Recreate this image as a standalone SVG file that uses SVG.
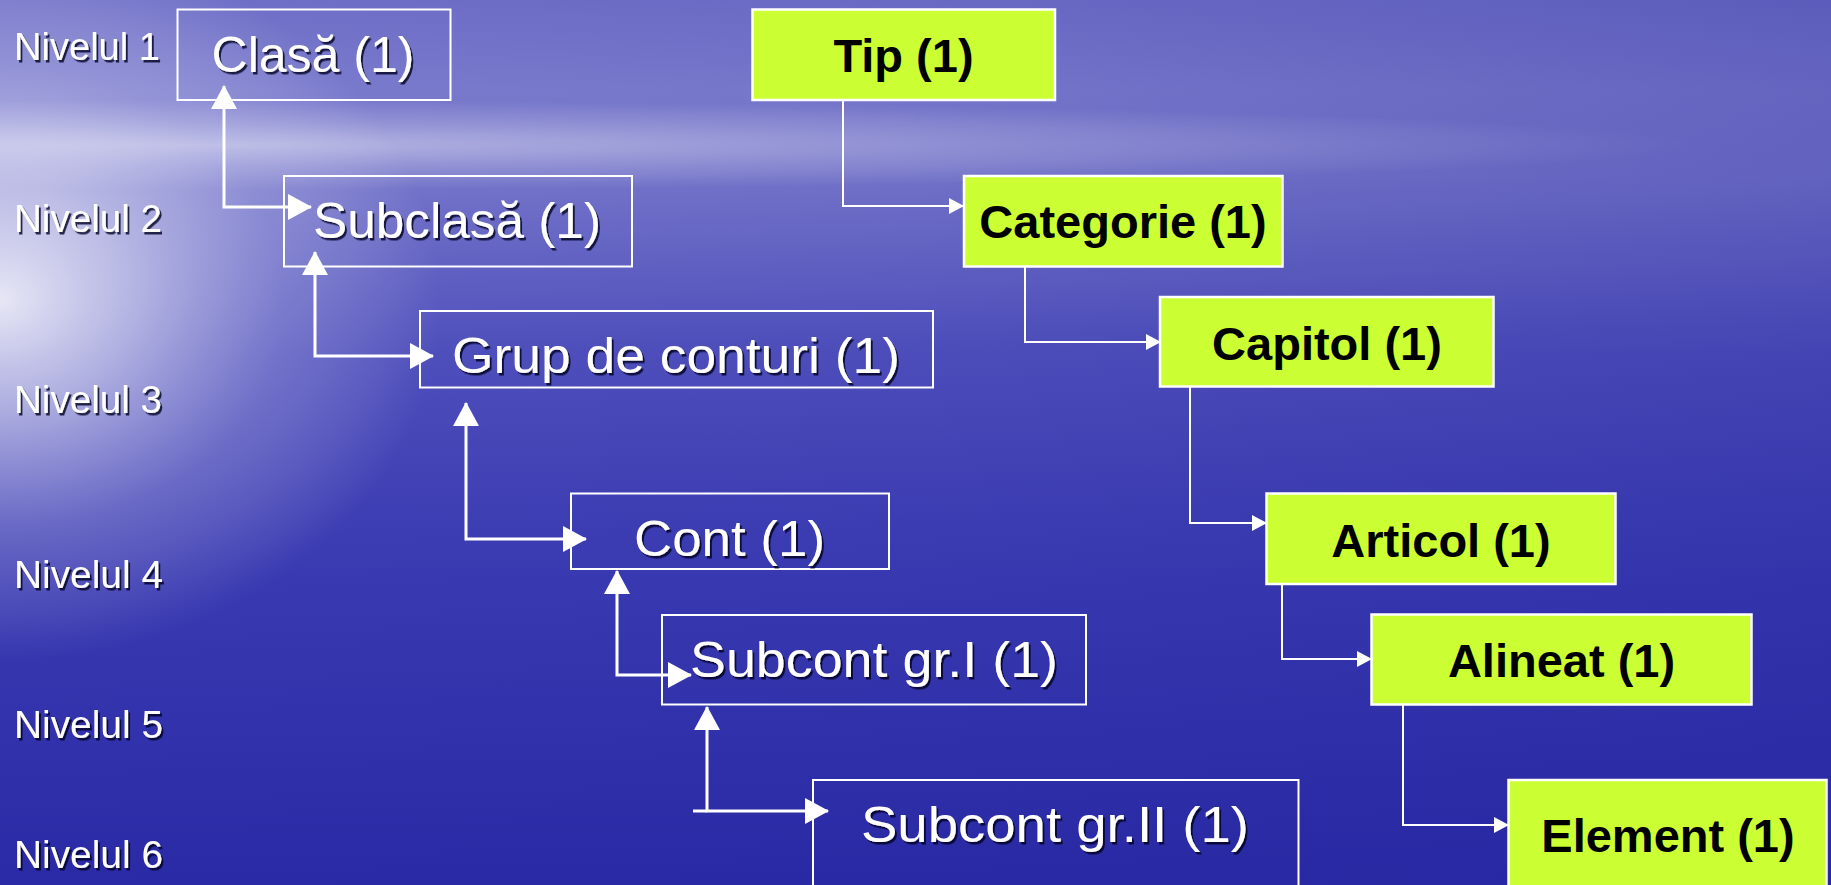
<svg xmlns="http://www.w3.org/2000/svg" width="1831" height="885" viewBox="0 0 1831 885">
  <defs>
    <linearGradient id="bgV" x1="0" y1="0" x2="0" y2="1">
      <stop offset="0" stop-color="#7070c8"/>
      <stop offset="0.1" stop-color="#7c7cce"/>
      <stop offset="0.2" stop-color="#7878cc"/>
      <stop offset="0.4" stop-color="#5050bd"/>
      <stop offset="0.65" stop-color="#3a3ab2"/>
      <stop offset="1" stop-color="#2a2aa6"/>
    </linearGradient>
    <linearGradient id="bgH" x1="0" y1="0" x2="1" y2="0">
      <stop offset="0" stop-color="#1e1e96" stop-opacity="0"/>
      <stop offset="0.5" stop-color="#1e1e96" stop-opacity="0.08"/>
      <stop offset="1" stop-color="#1e1e96" stop-opacity="0.25"/>
    </linearGradient>
    <radialGradient id="glow" cx="0" cy="0" r="1" gradientUnits="userSpaceOnUse" gradientTransform="translate(0 300) scale(440 360)">
      <stop offset="0" stop-color="#ffffff" stop-opacity="0.85"/>
      <stop offset="0.3" stop-color="#f0f0fa" stop-opacity="0.6"/>
      <stop offset="0.65" stop-color="#dcdcf4" stop-opacity="0.25"/>
      <stop offset="1" stop-color="#ffffff" stop-opacity="0"/>
    </radialGradient>
    <radialGradient id="band" cx="0" cy="0" r="1" gradientUnits="userSpaceOnUse" gradientTransform="translate(200 145) scale(1500 45)">
      <stop offset="0" stop-color="#ffffff" stop-opacity="0.45"/>
      <stop offset="0.5" stop-color="#ffffff" stop-opacity="0.2"/>
      <stop offset="1" stop-color="#ffffff" stop-opacity="0"/>
    </radialGradient>
    <filter id="shadow" x="-10%" y="-20%" width="120%" height="150%">
      <feDropShadow dx="2" dy="2.5" stdDeviation="0.6" flood-color="#000022" flood-opacity="0.8"/>
    </filter>
    <marker id="bigHead" viewBox="0 0 24 26" refX="23" refY="13" markerWidth="24" markerHeight="26" markerUnits="userSpaceOnUse" orient="auto-start-reverse">
      <path d="M0,0 L24,13 L0,26 z" fill="#ffffff"/>
    </marker>
    <marker id="smallHead" viewBox="0 0 15 16" refX="14" refY="8" markerWidth="15" markerHeight="16" markerUnits="userSpaceOnUse" orient="auto">
      <path d="M0,0 L15,8 L0,16 z" fill="#ffffff"/>
    </marker>
    <style>
      .lvl { font-family: "Liberation Sans", Arial, sans-serif; font-size: 38px; fill: #ffffff; }
      .wbox { fill: none; stroke: #ffffff; stroke-width: 2; }
      .wtxt { font-family: "Liberation Sans", Arial, sans-serif; font-size: 50px; fill: #ffffff; text-anchor: middle; }
      .gbox { fill: #ccff33; stroke: #ffffff; stroke-width: 2.5; }
      .gtxt { font-family: "Liberation Sans", Arial, sans-serif; font-size: 47px; font-weight: bold; fill: #000000; text-anchor: middle; }
      .thick { fill: none; stroke: #ffffff; stroke-width: 3; marker-start: url(#bigHead); marker-end: url(#bigHead); }
      .thin { fill: none; stroke: #ffffff; stroke-width: 2; marker-end: url(#smallHead); }
    </style>
  </defs>

  <!-- background -->
  <rect x="0" y="0" width="1831" height="885" fill="url(#bgV)"/>
  <rect x="0" y="0" width="1831" height="885" fill="url(#bgH)"/>
  <rect x="0" y="90" width="1831" height="110" fill="url(#band)"/>
  <rect x="0" y="0" width="1831" height="885" fill="url(#glow)"/>

  <!-- level labels -->
  <g id="levels" filter="url(#shadow)">
    <text class="lvl" x="14" y="60" textLength="146" lengthAdjust="spacingAndGlyphs">Nivelul 1</text>
    <text class="lvl" x="14" y="232" textLength="148" lengthAdjust="spacingAndGlyphs">Nivelul 2</text>
    <text class="lvl" x="14" y="413" textLength="148" lengthAdjust="spacingAndGlyphs">Nivelul 3</text>
    <text class="lvl" x="14" y="588" textLength="149" lengthAdjust="spacingAndGlyphs">Nivelul 4</text>
    <text class="lvl" x="14" y="738" textLength="149" lengthAdjust="spacingAndGlyphs">Nivelul 5</text>
    <text class="lvl" x="14" y="868" textLength="149" lengthAdjust="spacingAndGlyphs">Nivelul 6</text>
  </g>

  <!-- connectors -->
  <g id="connectors">
    <path class="thick" d="M224,86 V207 H311"/>
    <path class="thick" d="M315,252 V356 H433"/>
    <path class="thick" d="M466,403 V539 H586"/>
    <path class="thick" d="M617,571 V675 H691"/>
    <path class="thick" d="M707,707 V811 H828"/>
    <path d="M693,811 H707" fill="none" stroke="#ffffff" stroke-width="3"/>

    <path class="thin" d="M843,100 V206 H963"/>
    <path class="thin" d="M1025,267 V342 H1160"/>
    <path class="thin" d="M1190,387 V523 H1266"/>
    <path class="thin" d="M1282,584 V659 H1371"/>
    <path class="thin" d="M1403,705 V825 H1508"/>
  </g>

  <!-- left hierarchy -->
  <g id="clasa">
    <rect class="wbox" x="177.5" y="9.5" width="273" height="90.5"/>
    <text class="wtxt" x="313" y="72" textLength="203" lengthAdjust="spacingAndGlyphs" filter="url(#shadow)">Clasă (1)</text>
  </g>
  <g id="subclasa">
    <rect class="wbox" x="284" y="176" width="348" height="90.5"/>
    <text class="wtxt" x="457" y="238" textLength="288" lengthAdjust="spacingAndGlyphs" filter="url(#shadow)">Subclasă (1)</text>
  </g>
  <g id="grup">
    <rect class="wbox" x="420" y="311" width="513" height="76.5"/>
    <text class="wtxt" x="676" y="373" textLength="448" lengthAdjust="spacingAndGlyphs" filter="url(#shadow)">Grup de conturi (1)</text>
  </g>
  <g id="cont">
    <rect class="wbox" x="571" y="493.5" width="318" height="75.5"/>
    <text class="wtxt" x="729.5" y="556" textLength="191" lengthAdjust="spacingAndGlyphs" filter="url(#shadow)">Cont (1)</text>
  </g>
  <g id="subcont1">
    <rect class="wbox" x="662" y="615" width="424" height="89.5"/>
    <text class="wtxt" x="874" y="677" textLength="368" lengthAdjust="spacingAndGlyphs" filter="url(#shadow)">Subcont gr.I (1)</text>
  </g>
  <g id="subcont2">
    <rect class="wbox" x="813" y="780" width="485.5" height="130"/>
    <text class="wtxt" x="1055" y="842" textLength="388" lengthAdjust="spacingAndGlyphs" filter="url(#shadow)">Subcont gr.II (1)</text>
  </g>

  <!-- right hierarchy -->
  <g id="tip">
    <rect class="gbox" x="752.5" y="9.5" width="302.5" height="90.5"/>
    <text class="gtxt" x="903.5" y="72">Tip (1)</text>
  </g>
  <g id="categorie">
    <rect class="gbox" x="964" y="176" width="318.5" height="90.5"/>
    <text class="gtxt" x="1123" y="238">Categorie (1)</text>
  </g>
  <g id="capitol">
    <rect class="gbox" x="1160" y="297" width="333.5" height="89.5"/>
    <text class="gtxt" x="1327" y="360">Capitol (1)</text>
  </g>
  <g id="articol">
    <rect class="gbox" x="1266.5" y="493.5" width="349" height="90.5"/>
    <text class="gtxt" x="1441" y="557">Articol (1)</text>
  </g>
  <g id="alineat">
    <rect class="gbox" x="1371.5" y="614.5" width="380" height="90"/>
    <text class="gtxt" x="1561.5" y="677">Alineat (1)</text>
  </g>
  <g id="element">
    <rect class="gbox" x="1508.5" y="780" width="318" height="130"/>
    <text class="gtxt" x="1668" y="852">Element (1)</text>
  </g>
</svg>
